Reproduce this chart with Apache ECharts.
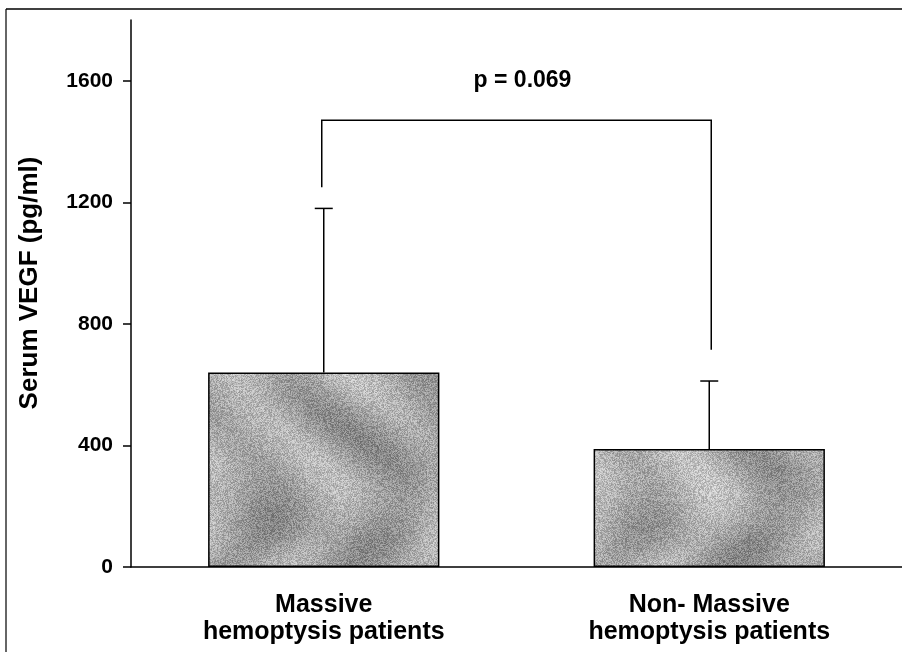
<!DOCTYPE html>
<html>
<head>
<meta charset="utf-8">
<script src="https://cdn.jsdelivr.net/npm/echarts@6/dist/echarts.min.js"></script>
<style>html,body{margin:0;padding:0;background:#fff}#c{width:902px;height:652px}</style>
</head>
<body>
<div id="c"></div>
<script>
const categories = ['Massive\nhemoptysis patients', 'Non- Massive\nhemoptysis patients'];
const means = [640, 388];
const errUpper = [1180, 612];
const bracketEnds = [1250, 715];
const bracketTop = 1470;
const pValueText = 'p = 0.069';
const pValueLevel = 1600;
const yTicks = [0, 400, 800, 1200, 1600];
const yName = 'Serum VEGF (pg/ml)';

const FONT = "'Liberation Sans', Arial, Helvetica, sans-serif";

// deterministic mottled gray texture for the bars (covers the whole canvas, no seams)
function makeTexture() {
  const w = 902, h = 652;
  const cv = document.createElement('canvas');
  cv.width = w; cv.height = h;
  const ctx = cv.getContext('2d');
  const img = ctx.createImageData(w, h);
  for (let y = 0; y < h; y++) {
    for (let x = 0; x < w; x++) {
      const wave = Math.sin(x * 0.05 + Math.sin(y * 0.022) * 2.8) * 18
                 + Math.sin(y * 0.055 - x * 0.018) * 10
                 + Math.sin((x + y) * 0.013) * 8;
      const h1 = ((x * 73856093) ^ (y * 19349663)) >>> 0;
      const dither = ((h1 % 11) - 5) * 6;
      let v = 168 + wave + dither;
      v = Math.max(80, Math.min(230, v));
      const i = (y * w + x) * 4;
      img.data[i] = img.data[i + 1] = img.data[i + 2] = v;
      img.data[i + 3] = 255;
    }
  }
  ctx.putImageData(img, 0, 0);
  return cv;
}

const chart = echarts.init(document.getElementById('c'), null, {renderer: 'canvas'});
const option = {
  backgroundColor: '#fff',
  animation: false,
  grid: {left: 131, right: 0, top: 20, bottom: 85, containLabel: false},
  xAxis: {
    type: 'category',
    data: categories,
    axisLine: {lineStyle: {color: '#000', width: 1.5}},
    axisTick: {alignWithLabel: true, length: 9, lineStyle: {color: '#000', width: 1.5}},
    axisLabel: {color: '#000', fontFamily: FONT, fontWeight: 'bold', fontSize: 25, lineHeight: 27, margin: 25}
  },
  yAxis: {
    type: 'value',
    min: 0, max: 1800,
    axisLine: {show: true, lineStyle: {color: '#000', width: 1.5}},
    axisTick: {show: true, length: 8, customValues: yTicks, lineStyle: {color: '#000', width: 1.5}},
    axisLabel: {customValues: yTicks, formatter: v => String(v), color: '#000', fontFamily: FONT, fontWeight: 'bold', fontSize: 21, margin: 18},
    splitLine: {show: false}
  },
  graphic: [
    {type: 'line', shape: {x1: 6, y1: 9, x2: 6, y2: 652}, style: {stroke: '#333', lineWidth: 1.5}},
    {type: 'line', shape: {x1: 6, y1: 9, x2: 902, y2: 9}, style: {stroke: '#000', lineWidth: 1.5}},
    {type: 'text', x: 30, y: 283, rotation: Math.PI / 2,
     style: {text: yName, fill: '#000', font: 'bold 26px ' + FONT, textAlign: 'center', textVerticalAlign: 'middle'}}
  ],
  series: [
    {
      type: 'bar',
      data: means,
      barWidth: '60%',
      itemStyle: {color: {image: makeTexture(), repeat: 'no-repeat'}, borderColor: '#000', borderWidth: 1.5},
      z: 2
    },
    {
      type: 'custom',
      z: 3,
      data: means.map((m, i) => [i, m, errUpper[i]]),
      renderItem: function (params, api) {
        const base = api.coord([api.value(0), api.value(1)]);
        const top = api.coord([api.value(0), api.value(2)]);
        const st = {stroke: '#000', lineWidth: 1.5};
        return {type: 'group', children: [
          {type: 'line', shape: {x1: top[0], y1: base[1], x2: top[0], y2: top[1]}, style: st},
          {type: 'line', shape: {x1: top[0] - 9, y1: top[1], x2: top[0] + 9, y2: top[1]}, style: st}
        ]};
      }
    },
    {
      type: 'custom',
      z: 3,
      data: [[bracketEnds[0], bracketEnds[1], bracketTop, pValueLevel]],
      renderItem: function (params, api) {
        const a = api.coord([0, api.value(0)]);
        const b = api.coord([1, api.value(1)]);
        const t = api.coord([0, api.value(2)]);
        const p = api.coord([0, api.value(3)]);
        return {type: 'group', children: [
          {type: 'polyline', shape: {points: [[a[0] - 2, a[1]], [a[0] - 2, t[1]], [b[0] + 2, t[1]], [b[0] + 2, b[1]]]},
           style: {stroke: '#000', lineWidth: 1.5, fill: null}},
          {type: 'text', x: (a[0] + b[0]) / 2 + 6, y: p[1],
           style: {text: pValueText, fill: '#000', font: 'bold 23px ' + FONT, textAlign: 'center', textVerticalAlign: 'middle'}}
        ]};
      }
    }
  ]
};
chart.setOption(option);
</script>
</body>
</html>
